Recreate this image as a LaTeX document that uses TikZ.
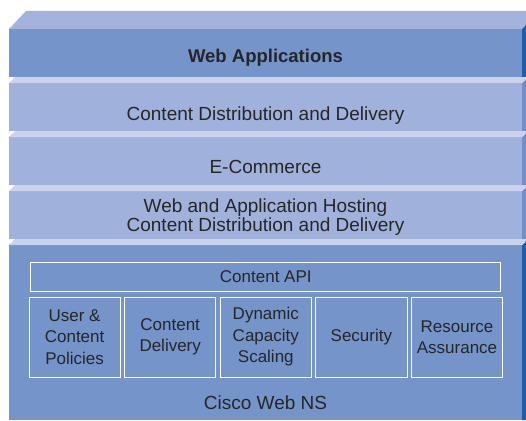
\documentclass[tikz,border=0pt]{standalone}
\usepackage{fontspec}
\setmainfont{Liberation Sans}
\usetikzlibrary{positioning}
\definecolor{topface}{HTML}{A3B3DB}
\definecolor{darkface}{HTML}{7594CA}
\definecolor{lightface}{HTML}{A0B2DC}
\definecolor{stripface}{HTML}{CBD3EB}
\definecolor{darkside}{HTML}{1A5EAE}
\definecolor{lightside}{HTML}{6F8FCA}
\definecolor{ink}{HTML}{262626}
\begin{document}
\begin{tikzpicture}[x=1pt,y=-1pt,node distance=3.5pt,
    layer label/.style={text=ink,font=\fontsize{19}{19}\selectfont},
    sub box/.style={draw=white,line width=0.9pt,inner sep=0pt,minimum width=91.2pt,
      minimum height=80pt,align=center,text=ink,font=\fontsize{17}{21.5}\selectfont}]
  \useasboundingbox (0,0) rectangle (526,420);
  % stack of layers
  \fill[topface] (9,29) -- (26,11) -- (526,11) -- (526,25) -- (522,29) -- cycle;
  \fill[darkface] (9,29) rectangle (522,77);
  \fill[darkside] (522,29) -- (526,25) -- (526,77) -- (522,77) -- cycle;
  \foreach \t/\b in {83/131,137/185,191/239} {
    \fill[lightface] (9,\t) rectangle (522,\b);
    \fill[lightside] (522,\t) -- (526,\t-4) -- (526,\b) -- (522,\b) -- cycle;
  }
  \fill[darkface] (9,245) rectangle (522,420);
  \fill[darkside] (522,245) -- (526,241) -- (526,420) -- (522,420) -- cycle;
  \foreach \y in {77,131,185,239}
    \fill[stripface] (9,\y+6) -- (15,\y) -- (526,\y) -- (526,\y+2) -- (522,\y+6) -- cycle;

  \node[layer label,font=\bfseries\fontsize{18.5}{19}\selectfont,anchor=base] (apps) at (265.5,63) {Web Applications};
  \node[layer label,anchor=base] (cdd) at (265.5,120) {Content Distribution and Delivery};
  \node[layer label,anchor=base] (ecom) at (265.5,173) {E-Commerce};
  \node[layer label,align=center] (host) at (265.5,217.5) {Web and Application Hosting\\Content Distribution and Delivery};

  \node[sub box] (p1) at (74.6,337) {User \&\\Content\\Policies};
  \node[sub box] (p2) [right=of p1] {Content\\Delivery};
  \node[sub box] (p3) [right=of p2] {Dynamic\\Capacity\\Scaling};
  \node[sub box] (p4) [right=of p3] {Security};
  \node[sub box] (p5) [right=of p4] {Resource\\Assurance};
  \node[sub box,minimum width=470pt,minimum height=29pt] (api) [above=5pt of p3] {Content API};
  \node[layer label,anchor=base] (ns) at (265.5,409) {Cisco Web NS};
\end{tikzpicture}
\end{document}
